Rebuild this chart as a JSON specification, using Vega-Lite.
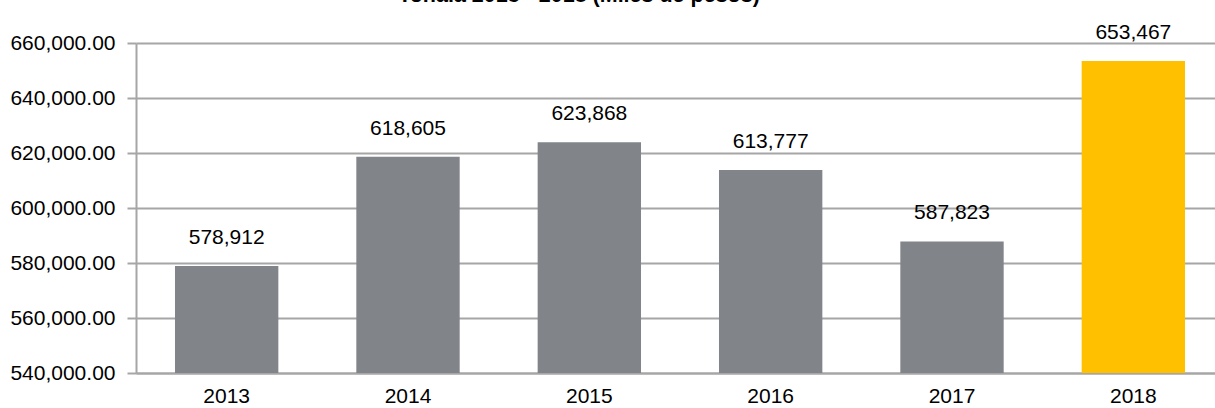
{
  "$schema": "https://vega.github.io/schema/vega-lite/v6.json",
  "autosize": "none",
  "padding": {"left": 136, "top": 43, "right": 0, "bottom": 35},
  "width": 1088,
  "height": 330,
  "background": "white",
  "title": {
    "text": "Tonalá 2013 - 2018 (Miles de pesos)",
    "font": "Liberation Sans",
    "fontSize": 21.5,
    "fontWeight": "bold",
    "color": "#000000",
    "baseline": "alphabetic",
    "offset": -2,
    "dx": -101
  },
  "config": {
    "view": {"stroke": null},
    "font": "Liberation Sans"
  },
  "data": {
    "values": [
      {"year": "2013", "value": 578912, "highlight": "no"},
      {"year": "2014", "value": 618605, "highlight": "no"},
      {"year": "2015", "value": 623868, "highlight": "no"},
      {"year": "2016", "value": 613777, "highlight": "no"},
      {"year": "2017", "value": 587823, "highlight": "no"},
      {"year": "2018", "value": 653467, "highlight": "yes"}
    ]
  },
  "encoding": {
    "x": {
      "field": "year",
      "type": "nominal",
      "sort": null,
      "scale": {"paddingInner": 0.43, "paddingOuter": 0.215},
      "axis": {
        "title": null,
        "labelAngle": 0,
        "labelFont": "Liberation Sans",
        "labelFontSize": 21,
        "labelColor": "#000000",
        "labelPadding": 12,
        "ticks": false,
        "domainColor": "#a6a6a6",
        "domainWidth": 2,
        "grid": false
      }
    },
    "y": {
      "field": "value",
      "type": "quantitative",
      "scale": {"domain": [540000, 660000], "zero": false, "nice": false},
      "axis": {
        "title": null,
        "values": [540000, 560000, 580000, 600000, 620000, 640000, 660000],
        "format": ",.2f",
        "labelFont": "Liberation Sans",
        "labelFontSize": 21,
        "labelColor": "#000000",
        "labelPadding": 12,
        "tickSize": 9,
        "tickColor": "#a6a6a6",
        "tickWidth": 2,
        "domainColor": "#a6a6a6",
        "domainWidth": 2,
        "grid": true,
        "gridColor": "#a6a6a6",
        "gridWidth": 2
      }
    }
  },
  "layer": [
    {
      "mark": {"type": "bar"},
      "encoding": {
        "y2": {"datum": 540000},
        "color": {
          "field": "highlight",
          "type": "nominal",
          "scale": {"domain": ["no", "yes"], "range": ["#818489", "#FFC000"]},
          "legend": null
        }
      }
    },
    {
      "mark": {
        "type": "text",
        "baseline": "alphabetic",
        "dy": -22,
        "font": "Liberation Sans",
        "fontSize": 21,
        "color": "#000000"
      },
      "encoding": {
        "text": {"field": "value", "type": "quantitative", "format": ","}
      }
    }
  ]
}
